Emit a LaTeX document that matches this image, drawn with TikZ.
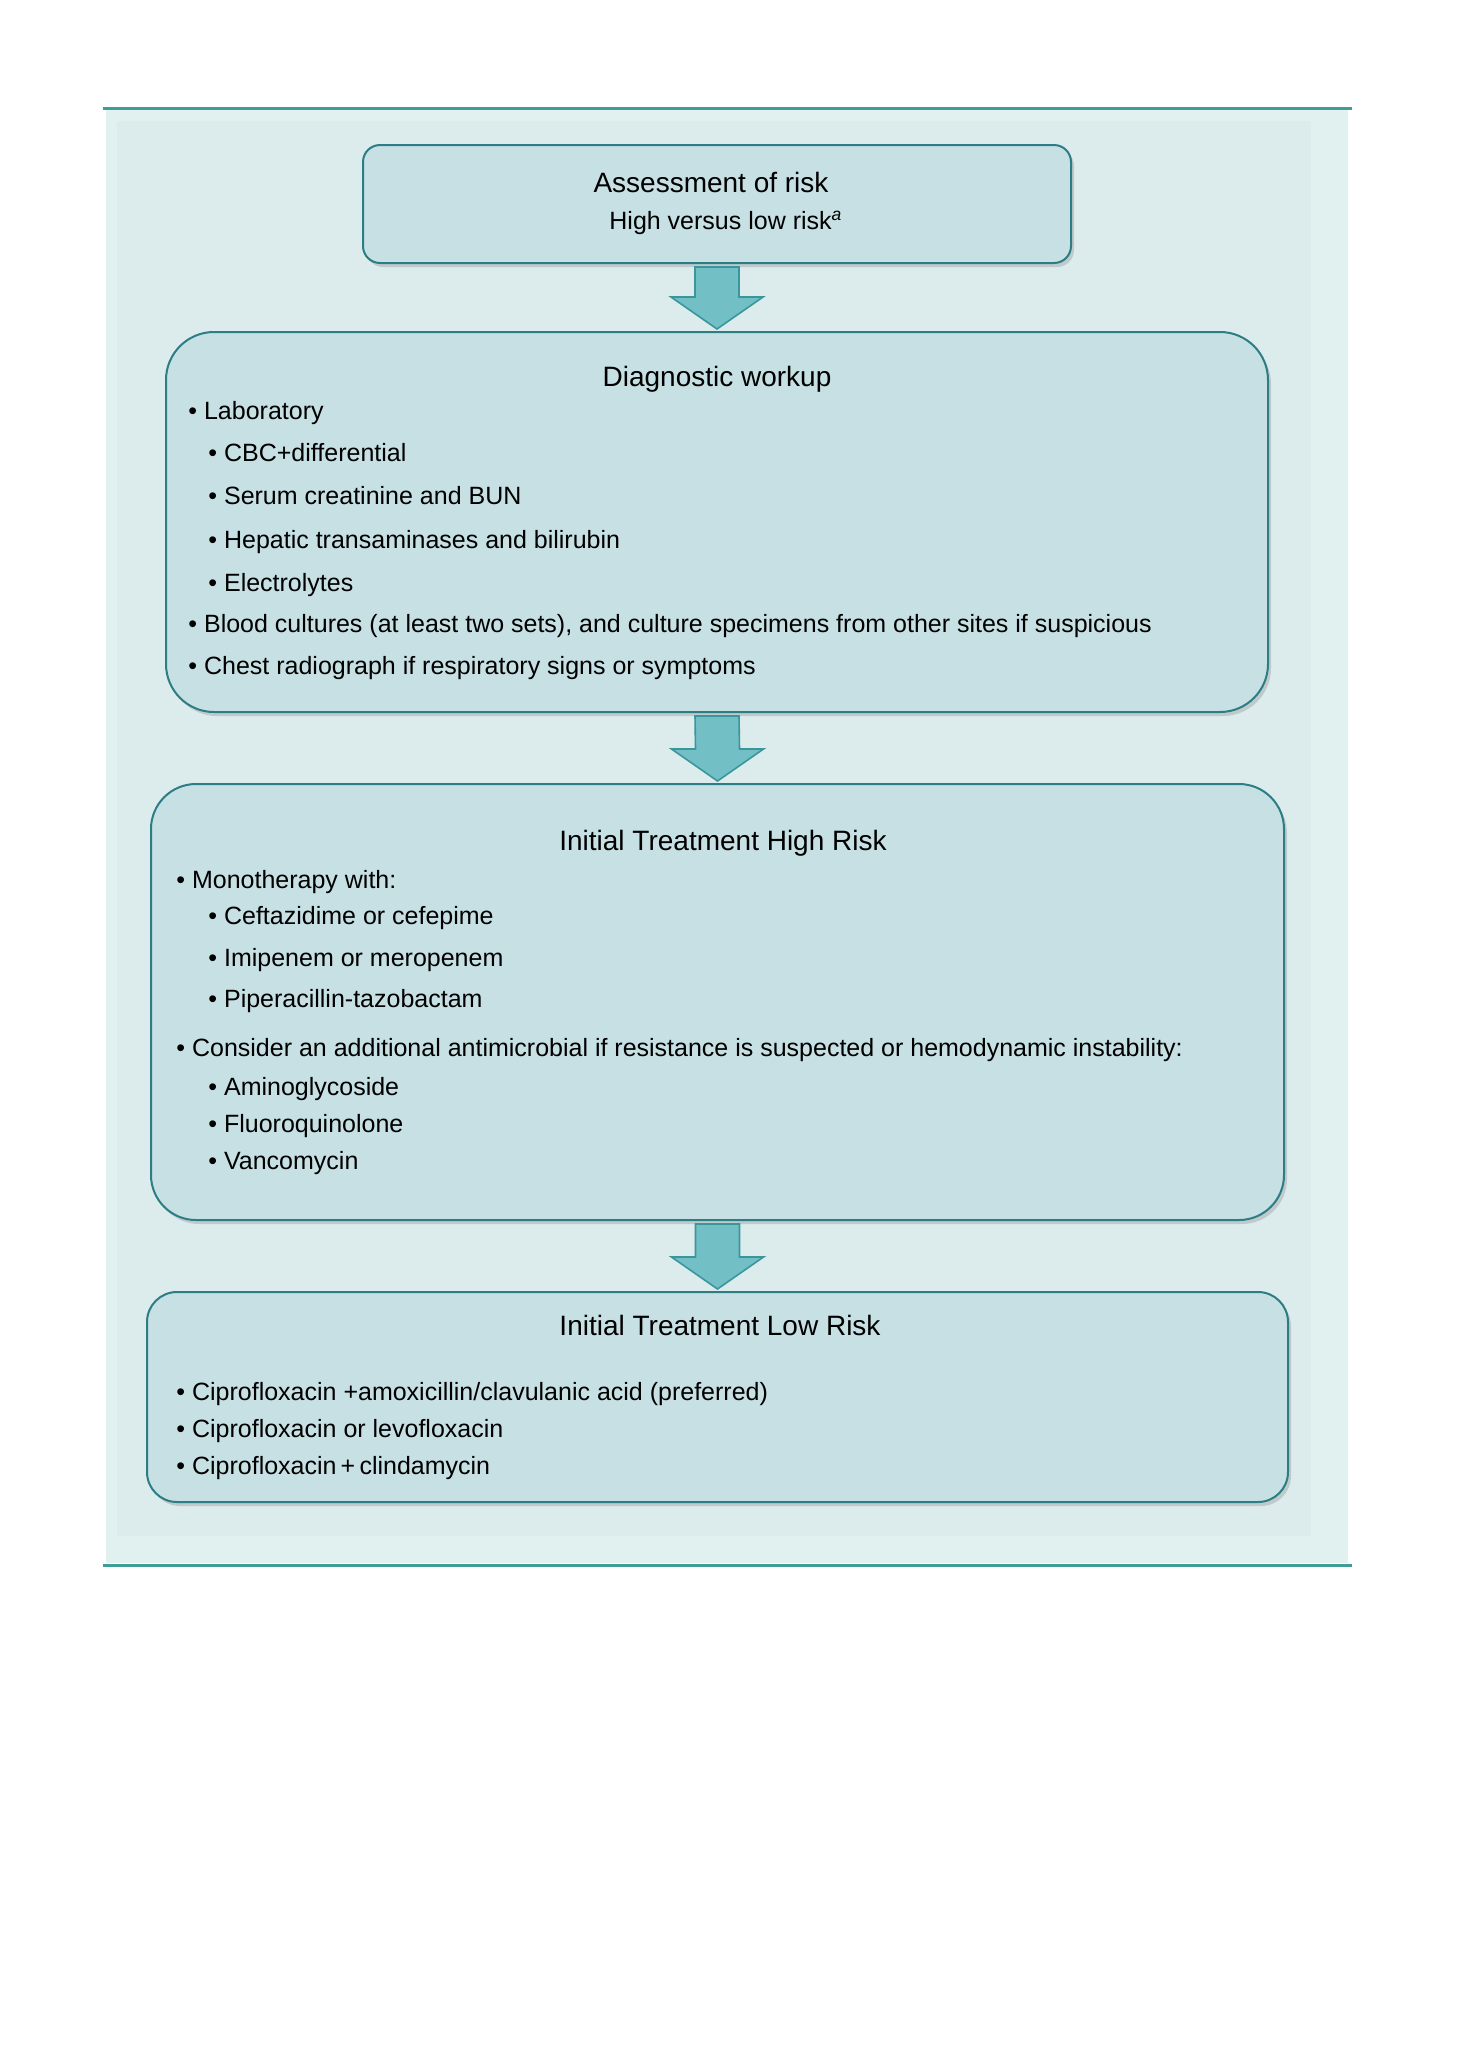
\documentclass[tikz,border=0pt]{standalone}
\usepackage{fontspec}
\setmainfont{Liberation Sans}
\usetikzlibrary{calc, shadows}
\definecolor{panelout}{HTML}{E1F1F0}
\definecolor{panelin}{HTML}{DCEBEB}
\definecolor{boxfill}{HTML}{C6E0E4}
\definecolor{boxline}{HTML}{2C7D84}
\definecolor{arrowfill}{HTML}{73BFC6}
\definecolor{arrowline}{HTML}{3B969C}
\definecolor{rulecol}{HTML}{3E9E97}

% block arrow from the bottom of one box to the top of the next
\newcommand{\flowarrow}[2]{%
  \draw[blockarrow] ($(#1.south)+(-22,4)$) -- ($(#1.south)+(22,4)$)
    -- ($(#2.north)+(22,-35)$) -- ($(#2.north)+(46,-35)$) -- ($(#2.north)+(0,-3)$)
    -- ($(#2.north)+(-46,-35)$) -- ($(#2.north)+(-22,-35)$) -- cycle;}

\begin{document}
\begin{tikzpicture}[
    x=0.5pt, y=-0.5pt,
    flowbox/.style={draw=boxline, line width=1pt, fill=boxfill, inner sep=0pt, outer sep=0pt,
      drop shadow={shadow xshift=1.5pt, shadow yshift=-2pt, fill=black!50, opacity=.3}},
    blockarrow/.style={draw=arrowline, line width=0.8pt, fill=arrowfill, line join=miter},
    title/.style={anchor=base, inner sep=0pt, font=\fontsize{14}{16}\selectfont},
    item/.style={anchor=base west, inner sep=0pt, font=\fontsize{12.5}{14}\selectfont},
  ]
  \useasboundingbox (0,0) rectangle (1457,2063);
  \fill[white] (0,0) rectangle (1457,2063);

  % panel behind the chart
  \fill[panelout] (106,110) rectangle (1348,1563);
  \fill[panelin] (117,121) rectangle (1311,1536);
  \draw[rulecol, line width=1.5pt] (103,108) -- (1352,108);
  \draw[rulecol, line width=1.5pt] (103,1565) -- (1352,1565);

  % boxes
  \node[flowbox, rounded corners=8.5pt, minimum width=354pt, minimum height=59pt] (risk) at (717,204) {};
  \node[flowbox, rounded corners=24pt, minimum width=551pt, minimum height=190pt] (workup) at (717,522) {};
  \node[flowbox, rounded corners=22.5pt, minimum width=566.5pt, minimum height=218pt] (highrisk) at (717.5,1002) {};
  \node[flowbox, rounded corners=15pt, minimum width=570.5pt, minimum height=105pt] (lowrisk) at (717.5,1397) {};

  \flowarrow{risk}{workup}
  \flowarrow{workup}{highrisk}
  \flowarrow{highrisk}{lowrisk}

  % assessment
  \node[title] (risk-t) at (711,192) {Assessment of risk};
  \node[item] (risk-s) at (609,229) {High versus low risk\textsuperscript{\itshape a}};

  % diagnostic workup
  \node[title] (workup-t) at (717,386) {Diagnostic workup};
  \node[item] (w1) at (188,419) {\textbullet\ Laboratory};
  \node[item] (w2) at (208,461) {\textbullet\ CBC+differential};
  \node[item] (w3) at (208,504) {\textbullet\ Serum creatinine and BUN};
  \node[item] (w4) at (208,548) {\textbullet\ Hepatic transaminases and bilirubin};
  \node[item] (w5) at (208,591) {\textbullet\ Electrolytes};
  \node[item] (w6) at (188,632) {\textbullet\ Blood cultures (at least two sets), and culture specimens from other sites if suspicious};
  \node[item] (w7) at (188,674) {\textbullet\ Chest radiograph if respiratory signs or symptoms};

  % high risk
  \node[title] (high-t) at (723,850) {Initial Treatment High Risk};
  \node[item] (h1) at (176,888) {\textbullet\ Monotherapy with:};
  \node[item] (h2) at (208,924) {\textbullet\ Ceftazidime or cefepime};
  \node[item] (h3) at (208,966) {\textbullet\ Imipenem or meropenem};
  \node[item] (h4) at (208,1007) {\textbullet\ Piperacillin-tazobactam};
  \node[item] (h5) at (176,1056) {\textbullet\ Consider an additional antimicrobial if resistance is suspected or hemodynamic instability:};
  \node[item] (h6) at (208,1095) {\textbullet\ Aminoglycoside};
  \node[item] (h7) at (208,1132) {\textbullet\ Fluoroquinolone};
  \node[item] (h8) at (208,1169) {\textbullet\ Vancomycin};

  % low risk
  \node[title] (low-t) at (720,1335) {Initial Treatment Low Risk};
  \node[item] (l1) at (176,1400) {\textbullet\ Ciprofloxacin +amoxicillin/clavulanic acid (preferred)};
  \node[item] (l2) at (176,1437) {\textbullet\ Ciprofloxacin or levofloxacin};
  \node[item] (l3) at (176,1474) {\textbullet\ Ciprofloxacin\,+\,clindamycin};
\end{tikzpicture}
\end{document}
